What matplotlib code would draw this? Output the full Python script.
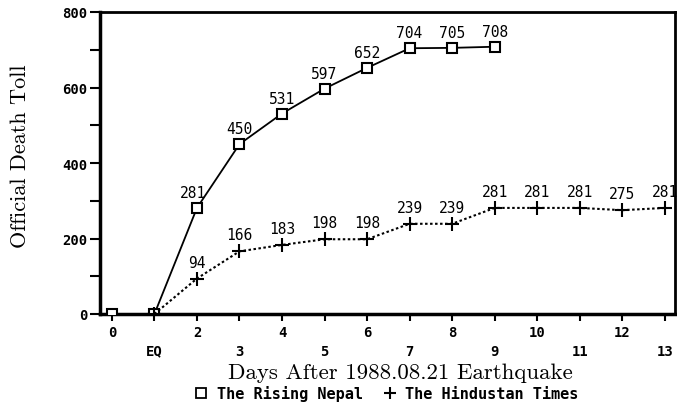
import matplotlib
matplotlib.use("Agg")
import matplotlib.pyplot as plt
from matplotlib.lines import Line2D
from matplotlib.ticker import MultipleLocator

# Day positions and their tick labels (day 1 is the earthquake day)
days = list(range(14))
day_labels = ["0", "EQ", "2", "3", "4", "5", "6", "7", "8", "9", "10", "11", "12", "13"]

# The Rising Nepal, days 0-9
nepal_days = days[:10]
nepal_toll = [0, 0, 281, 450, 531, 597, 652, 704, 705, 708]

# The Hindustan Times, from the earthquake day onwards
ht_days = days[1:]
ht_toll = [0, 94, 166, 183, 198, 198, 239, 239, 281, 281, 281, 275, 281]

mono = "DejaVu Sans Mono"
serif = "cmr10"

fig = plt.figure(figsize=(6.77, 4.06), dpi=100)
ax = fig.add_axes([100 / 677, 1 - 315 / 406, 575 / 677, 302 / 406])

ax.plot(nepal_days, nepal_toll, color="black", lw=1.3, marker="s", ms=6.5,
        mfc="white", mec="black", mew=1.5, zorder=3)
ax.plot(ht_days, ht_toll, color="black", lw=1.5, ls=(0, (1.2, 1.2)),
        marker="+", ms=10, mew=1.5, zorder=3)

for x, y in zip(nepal_days[2:], nepal_toll[2:]):
    ax.annotate(str(y), (x, y), xytext=(-4 if x == 2 else 0, 8),
                textcoords="offset pixels", ha="center", va="bottom",
                fontsize=10.5, family=mono)
for x, y in zip(ht_days[1:], ht_toll[1:]):
    ax.annotate(str(y), (x, y), xytext=(0, 9), textcoords="offset pixels",
                ha="center", va="bottom", fontsize=10.5, family=mono)

ax.set_xlim(-0.28, 13.24)
ax.set_ylim(0, 800)

ax.set_xticks(days)
ax.set_xticklabels([("\n" + t) if i % 2 else t for i, t in enumerate(day_labels)],
                   family=mono, fontweight="bold", fontsize=10, linespacing=1.4)
ax.yaxis.set_major_locator(MultipleLocator(200))
ax.yaxis.set_minor_locator(MultipleLocator(100))
for lbl in ax.get_yticklabels():
    lbl.set_family(mono)
    lbl.set_fontweight("bold")
    lbl.set_fontsize(10)

ax.tick_params(axis="x", direction="out", length=5, width=1.5, pad=3)
ax.tick_params(axis="y", which="both", direction="out", length=7, width=1.5, pad=2)

for side in ["left", "bottom"]:
    ax.spines[side].set_linewidth(2.5)
for side in ["top", "right"]:
    ax.spines[side].set_linewidth(2)

ax.set_ylabel("Official Death Toll", family=serif, fontsize=16)
ax.yaxis.set_label_coords(-0.122, 0.525)
ax.set_xlabel("Days After 1988.08.21 Earthquake", family=serif, fontsize=16.5)
ax.xaxis.set_label_coords(0.522, -0.16)

handles = [
    Line2D([], [], ls="none", marker="s", ms=7, mfc="white", mec="black", mew=1.3),
    Line2D([], [], ls="none", marker="+", ms=9, mec="black", mew=1.5),
]
fig.legend(handles, ["The Rising Nepal", "The Hindustan Times"], ncol=2,
           loc="center", bbox_to_anchor=(387 / 677, 1 - 394 / 406), frameon=False,
           handlelength=0.8, handletextpad=0.6, columnspacing=1.4,
           borderpad=0, prop={"family": mono, "weight": "bold", "size": 11})

fig.savefig("out.png", dpi=100)
